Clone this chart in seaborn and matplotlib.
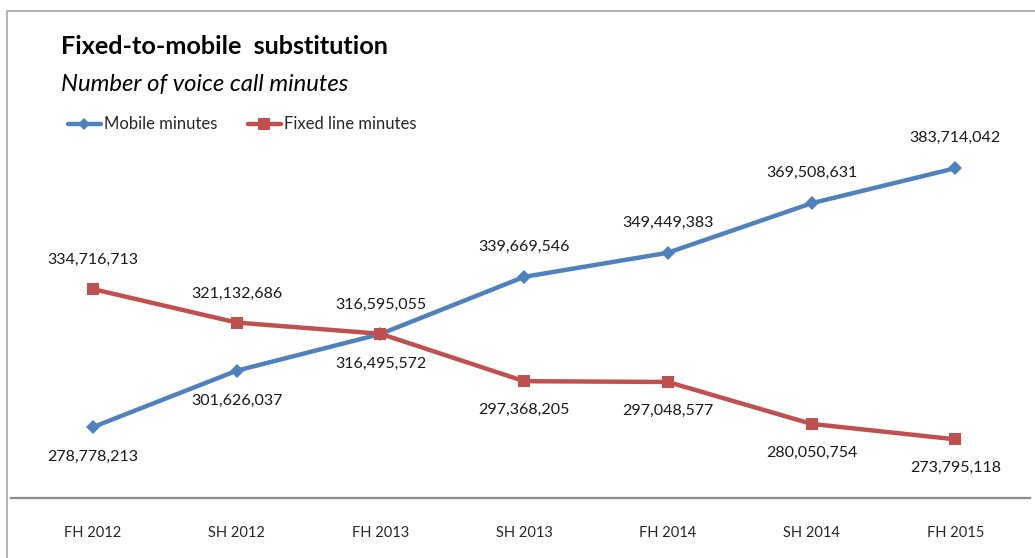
import matplotlib
matplotlib.use("Agg")
import matplotlib.pyplot as plt
import matplotlib.patches as mpatches
import pandas as pd
import seaborn as sns

periods = ["FH 2012", "SH 2012", "FH 2013", "SH 2013", "FH 2014", "SH 2014", "FH 2015"]
mobile_minutes = [278778213, 301626037, 316495572, 339669546, 349449383, 369508631, 383714042]
fixed_minutes = [334716713, 321132686, 316595055, 297368205, 297048577, 280050754, 273795118]

# label placement: +1 above the point, -1 below
mobile_label_side = [-1, -1, -1, 1, 1, 1, 1]
fixed_label_side = [1, 1, 1, -1, -1, -1, -1]

BLUE = "#4F81BD"
RED = "#C0504D"

sns.set_theme(style="white")
plt.rcParams["font.family"] = ["Lato", "DejaVu Sans"]

df = pd.DataFrame({
    "period": periods * 2,
    "pos": list(range(len(periods))) * 2,
    "minutes": mobile_minutes + fixed_minutes,
    "series": ["Mobile minutes"] * len(periods) + ["Fixed line minutes"] * len(periods),
})

fig = plt.figure(figsize=(10.35, 5.58), dpi=100)
ax = fig.add_axes([0.0106, 0.1075, 0.9845, 0.663])

sns.lineplot(
    data=df, x="pos", y="minutes", hue="series", style="series",
    palette={"Mobile minutes": BLUE, "Fixed line minutes": RED},
    markers={"Mobile minutes": "D", "Fixed line minutes": "s"},
    dashes=False, linewidth=3.2, markersize=7, markeredgewidth=0,
    ax=ax, legend=False,
)
# slightly larger square markers for fixed line
for line in ax.get_lines():
    if line.get_markerfacecolor() == RED or line.get_color() == RED:
        line.set_markersize(9)

ax.set_xlim(-0.571, 6.52)
ax.set_ylim(250e6, 400e6)
ax.set_xticks(range(len(periods)))
ax.set_xticklabels(periods, fontsize=10.5)
ax.tick_params(axis="x", length=0, pad=20)
ax.set_yticks([])
ax.set_xlabel("")
ax.set_ylabel("")
for s in ["top", "right", "left"]:
    ax.spines[s].set_visible(False)
ax.spines["bottom"].set_color("#8C8C8C")
ax.spines["bottom"].set_linewidth(1.6)
ax.patch.set_alpha(0)

for i, (v, side) in enumerate(zip(mobile_minutes, mobile_label_side)):
    ax.annotate(f"{v:,}", (i, v), xytext=(0, 30 * side), textcoords="offset pixels",
                ha="center", va="center", fontsize=11.5, color="#1a1a1a")
for i, (v, side) in enumerate(zip(fixed_minutes, fixed_label_side)):
    ax.annotate(f"{v:,}", (i, v), xytext=(0, 29 * side), textcoords="offset pixels",
                ha="center", va="center", fontsize=11.5, color="#1a1a1a")

fig.text(0.059, 0.916, "Fixed-to-mobile  substitution", fontsize=18.2, fontweight="bold",
         ha="left", va="center", color="black")
fig.text(0.059, 0.848, "Number of voice call minutes", fontsize=17.2, fontstyle="italic",
         ha="left", va="center", color="black")

handles = [
    plt.Line2D([], [], color=BLUE, lw=3.2, marker="D", markersize=6, markeredgewidth=0),
    plt.Line2D([], [], color=RED, lw=3.2, marker="s", markersize=8, markeredgewidth=0),
]
fig.legend(handles, ["Mobile minutes", "Fixed line minutes"], ncol=2, frameon=False,
           loc="center left", bbox_to_anchor=(0.051, 0.777), fontsize=12,
           handlelength=2.0, handletextpad=0.15, columnspacing=1.85)

frame = mpatches.Rectangle((0.0068, -0.2), 1.2, 1.18, transform=fig.transFigure,
                           fill=False, edgecolor="#A6A6A6", linewidth=1.2)
fig.patches.append(frame)

fig.savefig("out.png", dpi=100)
